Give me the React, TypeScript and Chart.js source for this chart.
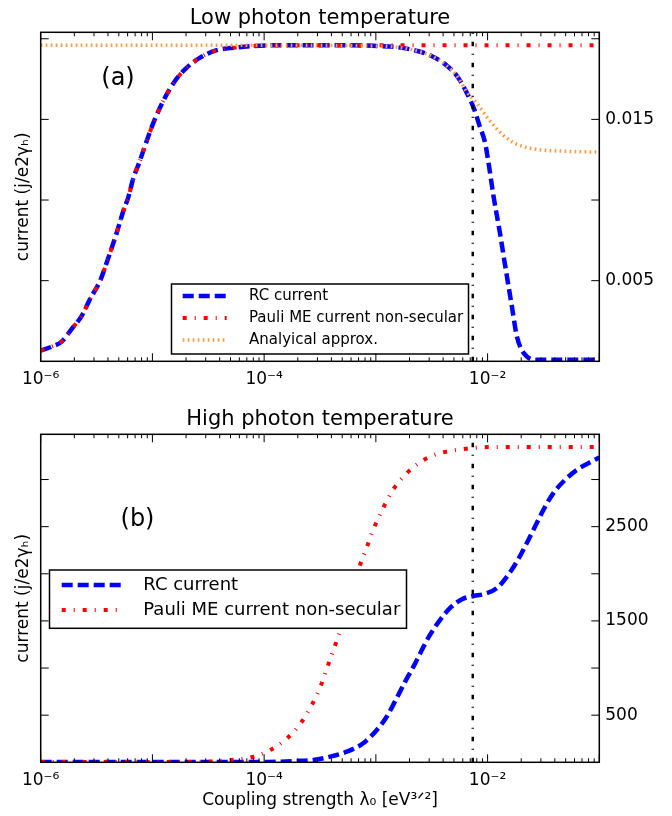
import React, { useEffect, useRef } from 'react';
import { Chart, registerables } from 'chart.js';

Chart.register(...registerables);

const FONT = '"DejaVu Sans", "Liberation Sans", sans-serif';

// ---------- shared axis data ----------
const xMin = 1e-6;
const xMax = 1e-1;
const xTickValues = [1e-6, 1e-4, 1e-2];
const xTickLabels = ['10⁻⁶', '10⁻⁴', '10⁻²'];
const markerX = 7.37e-3;
const yAxisTitle = 'current (j/e2γₕ)';
const xAxisTitle = 'Coupling strength λ₀ [eV³ᐟ²]';

// ---------- panel (a): low photon temperature ----------
const lowTitle = 'Low photon temperature';
const lowPanelLabel = '(a)';
const lowYMin = 0;
const lowYMax = 0.0204;
const lowYTickValues = [0.005, 0.01, 0.015, 0.02];
const lowYTickLabels = ['0.005', '', '0.015', ''];

const lowRcX = [1e-6, 1.25e-6, 1.54e-6, 1.89e-6, 2.33e-6, 2.76e-6, 3.4e-6, 3.9e-6, 4.8e-6, 5.5e-6, 6.1e-6, 6.7e-6, 7.7e-6, 9.2e-6, 1.05e-5, 1.25e-5, 1.59e-5, 2.03e-5, 2.67e-5, 3.77e-5, 5.5e-5, 8e-5, 1.5e-4, 3e-4, 6e-4, 1.02e-3, 1.49e-3, 2.17e-3, 3.05e-3, 4.25e-3, 5.4e-3, 6.5e-3, 7.6e-3, 8.5e-3, 9.5e-3, 1.02e-2, 1.13e-2, 1.29e-2, 1.44e-2, 1.65e-2, 1.83e-2, 2.24e-2, 2.75e-2, 5e-2, 1e-1];
const lowRcY = [0.00067, 0.0009, 0.00122, 0.002, 0.00282, 0.00385, 0.00499, 0.00613, 0.00799, 0.00934, 0.0102, 0.01128, 0.01241, 0.01396, 0.015, 0.01614, 0.01738, 0.01821, 0.01883, 0.01929, 0.01945, 0.01955, 0.0196, 0.0196, 0.0196, 0.01955, 0.01949, 0.0193, 0.01898, 0.01837, 0.01763, 0.01666, 0.01562, 0.01458, 0.01355, 0.0123, 0.01024, 0.00796, 0.00589, 0.0034, 0.00154, 0.0003, 0.0001, 0.0001, 0.0001];

const lowPauliX = [1e-6, 1.25e-6, 1.54e-6, 1.89e-6, 2.33e-6, 2.76e-6, 3.4e-6, 3.9e-6, 4.8e-6, 5.5e-6, 6.1e-6, 6.7e-6, 7.7e-6, 9.2e-6, 1.05e-5, 1.25e-5, 1.59e-5, 2.03e-5, 2.67e-5, 3.77e-5, 5.5e-5, 8e-5, 1.5e-4, 1e-3, 1e-2, 1e-1];
const lowPauliY = [0.00067, 0.0009, 0.00122, 0.002, 0.00282, 0.00385, 0.00499, 0.00613, 0.00799, 0.00934, 0.0102, 0.01128, 0.01241, 0.01396, 0.015, 0.01614, 0.01738, 0.01821, 0.01883, 0.01929, 0.01945, 0.01955, 0.0196, 0.0196, 0.0196, 0.0196];

const lowApproxX = [1e-6, 1e-5, 1e-4, 1.02e-3, 1.49e-3, 2.17e-3, 3.05e-3, 4.25e-3, 5.4e-3, 6.5e-3, 8e-3, 1.05e-2, 1.39e-2, 1.84e-2, 2.75e-2, 4.7e-2, 1e-1];
const lowApproxY = [0.0196, 0.0196, 0.0196, 0.01955, 0.01949, 0.0193, 0.01898, 0.01837, 0.01763, 0.01672, 0.016, 0.0149, 0.014, 0.01345, 0.01314, 0.01303, 0.01297];

// ---------- panel (b): high photon temperature ----------
const highTitle = 'High photon temperature';
const highPanelLabel = '(b)';
const highYMin = 0;
const highYMax = 3480;
const highYTickValues = [500, 1000, 1500, 2000, 2500, 3000];
const highYTickLabels = ['500', '', '1500', '', '2500', ''];

const highRcX = [1e-6, 1e-5, 1e-4, 1.95e-4, 2.75e-4, 3.89e-4, 5.5e-4, 7.7e-4, 1.02e-3, 1.25e-3, 1.49e-3, 1.83e-3, 2.17e-3, 2.58e-3, 3.05e-3, 3.76e-3, 4.6e-3, 5.9e-3, 7.5e-3, 9.2e-3, 1.21e-2, 1.49e-2, 1.83e-2, 2.24e-2, 2.66e-2, 3.16e-2, 3.88e-2, 4.77e-2, 6.3e-2, 9.1e-2, 1e-1];
const highRcY = [2, 2, 3, 14, 24, 60, 113, 202, 343, 484, 650, 856, 1015, 1192, 1351, 1511, 1635, 1730, 1765, 1783, 1847, 1970, 2130, 2325, 2501, 2678, 2856, 2979, 3103, 3209, 3235];

const highPauliX = [1e-6, 1e-5, 3.06e-5, 5.1e-5, 7.7e-5, 1.13e-4, 1.61e-4, 2.14e-4, 2.67e-4, 3.21e-4, 3.71e-4, 4.3e-4, 4.95e-4, 7.1e-4, 8.3e-4, 9.6e-4, 1.15e-3, 1.41e-3, 1.83e-3, 2.6e-3, 3.76e-3, 6e-3, 1e-2, 1e-1];
const highPauliY = [3, 3, 6, 24, 53, 130, 255, 420, 608, 810, 1022, 1235, 1440, 2070, 2282, 2484, 2686, 2883, 3050, 3199, 3280, 3323, 3344, 3344];

// ---------- helpers ----------
const zip = (xs: number[], ys: number[]) => xs.map((x, i) => ({ x, y: ys[i] }));

const labelFrom = (values: number[], labels: string[]) => (v: any) => {
  const n = Number(v);
  const i = values.findIndex((t) => Math.abs(t - n) <= Math.abs(t) * 1e-6);
  return i >= 0 ? labels[i] : '';
};

const framePlugin = {
  id: 'frame',
  afterDatasetsDraw(chart: any, _args: any, opts: any) {
    const ctx = chart.ctx;
    const lg = opts.legend;
    ctx.save();
    ctx.setLineDash([]);
    ctx.fillStyle = '#ffffff';
    ctx.fillRect(lg.x, lg.y, lg.w, lg.h);
    ctx.strokeStyle = '#000000';
    ctx.lineWidth = 1.5;
    ctx.strokeRect(lg.x, lg.y, lg.w, lg.h);
    let row = 0;
    chart.data.datasets.forEach((ds: any) => {
      if (!ds.label) return;
      const y = lg.firstRow + row * lg.rowGap;
      ctx.save();
      ctx.beginPath();
      ctx.strokeStyle = ds.borderColor;
      ctx.lineWidth = ds.borderWidth;
      ctx.lineCap = 'butt';
      ctx.setLineDash(ds.borderDash || []);
      ctx.moveTo(lg.sampleX0, y);
      ctx.lineTo(lg.sampleX1, y);
      ctx.stroke();
      ctx.restore();
      ctx.fillStyle = '#000000';
      ctx.font = `${lg.fontSize}px ${FONT}`;
      ctx.textBaseline = 'middle';
      ctx.textAlign = 'left';
      ctx.fillText(ds.label, lg.textX, y);
      row++;
    });
    ctx.fillStyle = '#000000';
    ctx.font = `${opts.panel.fontSize}px ${FONT}`;
    ctx.textAlign = 'center';
    ctx.textBaseline = 'middle';
    ctx.fillText(opts.panel.text, opts.panel.x, opts.panel.y);
    ctx.restore();
  },
  afterDraw(chart: any, _args: any, opts: any) {
    const ctx = chart.ctx;
    const { left, right, top, bottom } = chart.chartArea;
    ctx.save();
    ctx.setLineDash([]);
    ctx.strokeStyle = '#000000';
    const line = (x0: number, y0: number, x1: number, y1: number) => {
      ctx.beginPath();
      ctx.moveTo(x0, y0);
      ctx.lineTo(x1, y1);
      ctx.stroke();
    };
    ctx.lineWidth = 1;
    const xs = chart.scales.x;
    for (let d = -6; d <= -1; d++) {
      for (let m = 1; m <= 9; m++) {
        const v = m * Math.pow(10, d);
        if (v < xMin * 0.999 || v > xMax * 1.001) continue;
        const px = xs.getPixelForValue(v);
        const len = m === 1 ? 8 : 4;
        line(px, bottom, px, bottom - len);
        line(px, top, px, top + len);
      }
    }
    const ys = chart.scales.y;
    (opts.yTicks as number[]).forEach((v) => {
      const py = ys.getPixelForValue(v);
      line(left, py, left + 8, py);
      line(right, py, right - 8, py);
    });
    ctx.lineWidth = 1.5;
    ctx.strokeRect(left, top, right - left, bottom - top);
    ctx.restore();
  },
};

type PanelSpec = {
  title: string;
  titlePad: { top: number; bottom: number };
  yMin: number;
  yMax: number;
  yTicks: number[];
  yLabels: string[];
  datasets: any[];
  xHeight: number;
  showXTitle: boolean;
  legend: any;
  panel: any;
};

function makeConfig(p: PanelSpec): any {
  return {
    type: 'line',
    data: { datasets: p.datasets },
    plugins: [framePlugin],
    options: {
      animation: false,
      responsive: false,
      events: [],
      layout: { padding: 0 },
      plugins: {
        legend: { display: false },
        tooltip: { enabled: false },
        title: {
          display: true,
          fullSize: false,
          text: p.title,
          color: '#000',
          font: { family: FONT, size: 21, weight: 'normal', lineHeight: 1.2 },
          padding: p.titlePad,
        },
        frame: { yTicks: p.yTicks, legend: p.legend, panel: p.panel },
      },
      elements: { point: { radius: 0 }, line: { borderCapStyle: 'butt', tension: 0 } },
      scales: {
        x: {
          type: 'logarithmic',
          position: 'bottom',
          min: xMin,
          max: xMax,
          grid: { display: false, drawTicks: false, tickLength: 0 },
          border: { display: false },
          afterBuildTicks: (s: any) => {
            s.ticks = xTickValues.map((value) => ({ value }));
          },
          ticks: {
            callback: labelFrom(xTickValues, xTickLabels),
            color: '#000',
            font: { family: FONT, size: 17 },
            padding: 8,
            maxRotation: 0,
            autoSkip: false,
          },
          title: {
            display: p.showXTitle,
            text: xAxisTitle,
            color: '#000',
            font: { family: FONT, size: 17 },
            padding: { top: 0, bottom: 5 },
          },
          afterFit: (s: any) => {
            s.height = p.xHeight;
          },
        },
        y: {
          position: 'left',
          min: p.yMin,
          max: p.yMax,
          grid: { display: false, drawTicks: false, tickLength: 0 },
          border: { display: false },
          ticks: { display: false },
          title: {
            display: true,
            text: yAxisTitle,
            color: '#000',
            font: { family: FONT, size: 17 },
            padding: { top: 13, bottom: 0 },
          },
          afterFit: (s: any) => {
            s.width = 40.7;
          },
        },
        y2: {
          position: 'right',
          min: p.yMin,
          max: p.yMax,
          grid: { display: false, drawTicks: false, tickLength: 0 },
          border: { display: false },
          afterBuildTicks: (s: any) => {
            s.ticks = p.yTicks.map((value) => ({ value }));
          },
          ticks: {
            callback: labelFrom(p.yTicks, p.yLabels),
            color: '#000',
            font: { family: FONT, size: 17 },
            padding: 6,
            autoSkip: false,
          },
          afterFit: (s: any) => {
            s.width = 672 - 599.3;
          },
        },
      },
    },
  };
}

const rcStyle = { borderColor: '#0000ff', borderWidth: 4.5, borderDash: [11, 5], cubicInterpolationMode: 'monotone', pointRadius: 0, fill: false, order: 4 };
const pauliStyle = { borderColor: '#ff0000', borderWidth: 4, borderDash: [4, 8, 1, 8], cubicInterpolationMode: 'monotone', pointRadius: 0, fill: false, order: 3 };
const approxStyle = { borderColor: 'rgb(255,153,68)', borderWidth: 3.5, borderDash: [1.7, 3.3], cubicInterpolationMode: 'monotone', pointRadius: 0, fill: false, order: 2 };
const markerStyle = { borderColor: '#000000', borderWidth: 2.5, borderDash: [4.5, 8, 1, 7.5], pointRadius: 0, fill: false, order: 1 };

const lowSpec: PanelSpec = {
  title: lowTitle,
  titlePad: { top: 6, bottom: 1.1 },
  yMin: lowYMin,
  yMax: lowYMax,
  yTicks: lowYTickValues,
  yLabels: lowYTickLabels,
  xHeight: 400 - 361.3,
  showXTitle: false,
  datasets: [
    { label: 'RC current', data: zip(lowRcX, lowRcY), ...rcStyle },
    { label: 'Pauli ME current non-secular', data: zip(lowPauliX, lowPauliY), ...pauliStyle },
    { label: 'Analyical approx.', data: zip(lowApproxX, lowApproxY), ...approxStyle },
    { label: '', data: [{ x: markerX, y: lowYMin }, { x: markerX, y: lowYMax }], ...markerStyle },
  ],
  legend: { x: 171.5, y: 284, w: 297, h: 70, firstRow: 296, rowGap: 22, sampleX0: 182.7, sampleX1: 226.7, textX: 249, fontSize: 15 },
  panel: { text: lowPanelLabel, x: 118, y: 79, fontSize: 24 },
};

const highSpec: PanelSpec = {
  title: highTitle,
  titlePad: { top: 7, bottom: 2.1 },
  yMin: highYMin,
  yMax: highYMax,
  yTicks: highYTickValues,
  yLabels: highYTickLabels,
  xHeight: 416 - 362.3,
  showXTitle: true,
  datasets: [
    { label: 'RC current', data: zip(highRcX, highRcY), ...rcStyle },
    { label: 'Pauli ME current non-secular', data: zip(highPauliX, highPauliY), ...pauliStyle },
    { label: '', data: [{ x: markerX, y: highYMin }, { x: markerX, y: highYMax }], ...markerStyle },
  ],
  legend: { x: 49.5, y: 170, w: 357, h: 58.3, firstRow: 185, rowGap: 25, sampleX0: 61.7, sampleX1: 123.3, textX: 143.3, fontSize: 18 },
  panel: { text: highPanelLabel, x: 137.5, y: 120, fontSize: 24 },
};

function Panel({ spec, top, height }: { spec: PanelSpec; top: number; height: number }) {
  const ref = useRef<HTMLCanvasElement | null>(null);
  useEffect(() => {
    if (!ref.current) return;
    const chart = new Chart(ref.current, makeConfig(spec));
    return () => chart.destroy();
  }, [spec]);
  return (
    <canvas
      ref={ref}
      width={672}
      height={height}
      style={{ position: 'absolute', left: 0, top, width: 672, height, display: 'block' }}
    />
  );
}

export default function App() {
  return (
    <div style={{ position: 'absolute', left: 0, top: 0, width: 672, height: 816, background: '#ffffff', fontFamily: FONT }}>
      <Panel spec={lowSpec} top={0} height={400} />
      <Panel spec={highSpec} top={400} height={416} />
    </div>
  );
}
